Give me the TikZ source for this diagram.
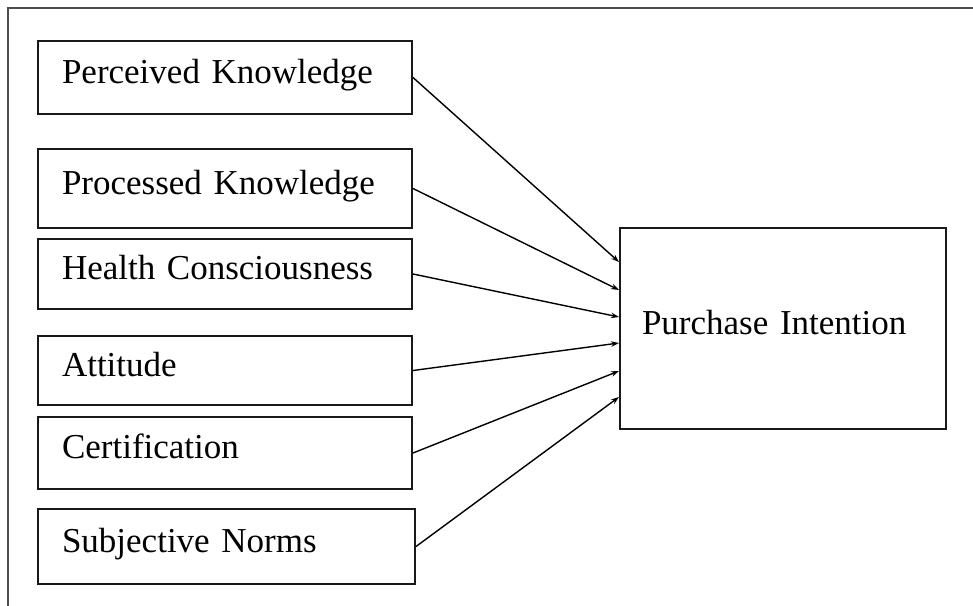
\documentclass[tikz,border=0pt]{standalone}
\usepackage{fontspec}
\setmainfont{Liberation Serif}
\usetikzlibrary{arrows.meta,calc}
\begin{document}
\begin{tikzpicture}[x=1pt,y=-1pt,
  framestyle/.style={draw=black!70, line width=2.2pt},
  factor/.style={draw=black!90, line width=2pt, inner xsep=24pt, inner ysep=0pt,
    text width=#1-48pt, minimum width=#1, align=left,
    font=\fontsize{35}{40}\selectfont, text height=23pt, text depth=11.5pt},
  outcome/.style={draw=black!90, line width=2pt, inner xsep=22pt, inner ysep=0pt,
    text width=282pt, minimum width=326pt, minimum height=201pt, align=left,
    font=\fontsize{35}{40}\selectfont, text height=23pt, text depth=11.5pt},
  link/.style={line width=1.4pt, -{Stealth[length=8pt,width=5.5pt]}}
]
\useasboundingbox (0,0) rectangle (973,605);
\draw[framestyle] (8,606) -- (8,8) -- (974,8);

\node[factor=374pt, minimum height=73pt] (pk) at (225,77.5) {Perceived Knowledge};
\node[factor=374pt, minimum height=79pt] (pr) at (225,188.5) {Processed Knowledge};
\node[factor=374pt, minimum height=70pt] (hc) at (225,274) {Health Consciousness};
\node[factor=374pt, minimum height=69pt] (at) at (225,370.5) {Attitude};
\node[factor=374pt, minimum height=72pt] (ce) at (225,453) {Certification};
\node[factor=377pt, minimum height=75pt] (sn) at (226.5,546.5) {Subjective Norms};

\node[outcome] (pi) at (783,328.5) {Purchase Intention};

\draw[link] (pk.east) -- ([yshift=66.5pt]pi.west);
\draw[link] (pr.east) -- ([yshift=38.5pt]pi.west);
\draw[link] (hc.east) -- ([yshift=11.5pt]pi.west);
\draw[link] (at.east) -- ([yshift=-14.5pt]pi.west);
\draw[link] (ce.east) -- ([yshift=-42.5pt]pi.west);
\draw[link] (sn.east) -- ([yshift=-68.5pt]pi.west);
\end{tikzpicture}
\end{document}
